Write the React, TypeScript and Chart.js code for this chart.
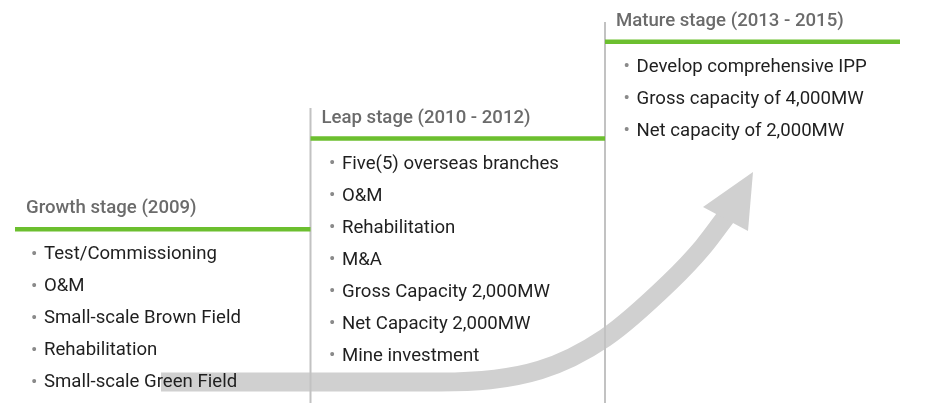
import React, { useEffect, useRef } from 'react';
import { Chart, registerables } from 'chart.js';

Chart.register(...registerables);

// ---- data ----
const stageTitles = ['Growth stage (2009)', 'Leap stage (2010 - 2012)', 'Mature stage (2013 - 2015)'];
const growthItems = ['Test/Commissioning', 'O&M', 'Small-scale Brown Field', 'Rehabilitation', 'Small-scale Green Field'];
const leapItems = ['Five(5) overseas branches', 'O&M', 'Rehabilitation', 'M&A', 'Gross Capacity 2,000MW', 'Net Capacity 2,000MW', 'Mine investment'];
const matureItems = ['Develop comprehensive IPP', 'Gross capacity of 4,000MW', 'Net capacity of 2,000MW'];
const stageItems = [growthItems, leapItems, matureItems];

// stage steps (x from/to, level of the green line)
const stageStartX = [15, 310.5, 605];
const stageEndX = [310.5, 605, 900];
const stageLevelY = [229.3, 138.5, 41.8];
// divider tops for stage 2 and 3
const dividerX = [310.5, 605];
const dividerTopY = [108, 22];
const dividerBottomY = [403, 403];

// growth arrow
const arrowX = [161, 300, 440, 540, 605, 670, 703, 728];
const arrowY = [382, 382, 382, 370, 338, 282, 247, 214];
const arrowHeadX = [703, 753, 748, 703];
const arrowHeadY = [207, 172, 231, 207];

const GREEN = '#6cbf2f';
const GREY_LINE = '#c2c2c2';
const ARROW = '#d0d0d0';

const ITEM_OFFSET = 25.5;
const ITEM_STEP = 32;

const textPlugin = {
  id: 'stageText',
  afterDatasetsDraw(chart: any) {
    const { ctx, scales } = chart;
    const xs = scales.x;
    const ys = scales.y;
    ctx.save();
    ctx.textBaseline = 'middle';
    ctx.textAlign = 'left';
    stageTitles.forEach((title, i) => {
      const x0 = xs.getPixelForValue(stageStartX[i]);
      const base = stageLevelY[i];
      ctx.font = '500 18.6px Roboto';
      ctx.fillStyle = '#6b6b6b';
      ctx.fillText(title, x0 + 11, ys.getPixelForValue(base - 20.5));
      stageItems[i].forEach((item, j) => {
        const y = ys.getPixelForValue(base + ITEM_OFFSET + j * ITEM_STEP);
        const bx = i === 0 ? x0 + 16 : x0 + 18.5;
        ctx.fillStyle = '#8a8a8a';
        ctx.font = '400 19px Roboto';
        ctx.fillText('•', bx, y);
        ctx.fillStyle = '#1f1f1f';
        ctx.font = '400 18.6px Roboto';
        ctx.fillText(item, bx + 13, y);
      });
    });
    ctx.restore();
  },
};

export default function App() {
  const ref = useRef<HTMLCanvasElement>(null);
  useEffect(() => {
    if (!ref.current) return;
    const datasets: any[] = [];
    stageStartX.forEach((sx, i) => {
      datasets.push({
        label: stageTitles[i],
        data: [
          { x: sx, y: stageLevelY[i] },
          { x: stageEndX[i], y: stageLevelY[i] },
        ],
        showLine: true,
        borderColor: GREEN,
        borderWidth: 4.5,
        pointRadius: 0,
        order: 1,
      });
    });
    dividerX.forEach((dx, i) => {
      datasets.push({
        label: 'divider' + i,
        data: [
          { x: dx, y: dividerTopY[i] },
          { x: dx, y: dividerBottomY[i] },
        ],
        showLine: true,
        borderColor: GREY_LINE,
        borderWidth: 2,
        pointRadius: 0,
        order: 2,
      });
    });
    datasets.push({
      label: 'arrow head',
      data: arrowHeadX.map((x, i) => ({ x, y: arrowHeadY[i] })),
      showLine: true,
      borderColor: ARROW,
      backgroundColor: ARROW,
      borderWidth: 0,
      fill: 'shape',
      pointRadius: 0,
      order: 3,
    });
    datasets.push({
      label: 'arrow',
      data: arrowX.map((x, i) => ({ x, y: arrowY[i] })),
      showLine: true,
      borderColor: ARROW,
      borderWidth: 19,
      cubicInterpolationMode: 'monotone',
      borderCapStyle: 'butt',
      pointRadius: 0,
      order: 4,
    });
    const chart = new Chart(ref.current, {
      type: 'scatter',
      data: { datasets },
      options: {
        animation: false,
        responsive: false,
        maintainAspectRatio: false,
        layout: { padding: 0 },
        plugins: { legend: { display: false }, tooltip: { enabled: false } },
        events: [],
        scales: {
          x: { type: 'linear', min: 0, max: 925, display: false },
          y: { type: 'linear', min: 0, max: 403, reverse: true, display: false },
        },
      },
      plugins: [textPlugin],
    });
    return () => chart.destroy();
  }, []);
  return (
    <div style={{ position: 'fixed', left: 0, top: 0, width: 925, height: 403, background: '#fff' }}>
      <canvas ref={ref} width={925} height={403} style={{ display: 'block' }} />
    </div>
  );
}
